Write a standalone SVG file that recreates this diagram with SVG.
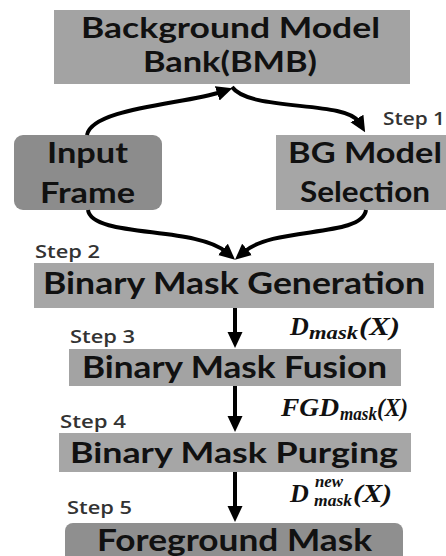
<svg xmlns="http://www.w3.org/2000/svg" width="446" height="556" viewBox="0 0 446 556">
<defs>
<style>
.lbl{font-family:Lato,"Open Sans","Liberation Sans",sans-serif;font-weight:700;fill:#111}
.step{font-family:"Open Sans","Liberation Sans",sans-serif;font-weight:600;font-size:18px;fill:#333}
.math{font-family:"Liberation Serif","DejaVu Serif",serif;font-style:italic;font-weight:700;fill:#111}
.big{font-size:26px}
.sub{font-size:18px}
.con{fill:none;stroke:#000;stroke-width:4;marker-end:url(#ah)}
</style>
<marker id="ah" markerUnits="userSpaceOnUse" viewBox="0 0 16 16" markerWidth="16" markerHeight="16" refX="4" refY="8" orient="auto">
<path d="M0,0.5 L16,8 L0,15.5 Z" fill="#000"/>
</marker>
</defs>
<rect width="446" height="556" fill="#fff"/>

<g id="bmb">
<rect x="54" y="10" width="356" height="74" fill="#a3a3a3"/>
<text class="lbl" x="81" y="38" font-size="28.5" textLength="299" lengthAdjust="spacingAndGlyphs">Background Model</text>
<text class="lbl" x="143" y="72" font-size="28.5" textLength="174" lengthAdjust="spacingAndGlyphs">Bank(BMB)</text>
</g>

<g id="input-frame">
<rect x="14" y="135" width="148" height="75" rx="9" fill="#8c8c8c"/>
<text class="lbl" x="47" y="163" font-size="28" textLength="81" lengthAdjust="spacingAndGlyphs">Input</text>
<text class="lbl" x="40" y="203" font-size="28" textLength="95" lengthAdjust="spacingAndGlyphs">Frame</text>
</g>

<g id="bg-selection">
<rect x="276" y="135" width="172" height="75" fill="#a6a6a6"/>
<text class="lbl" x="288" y="163" font-size="28" textLength="154" lengthAdjust="spacingAndGlyphs">BG Model</text>
<text class="lbl" x="300" y="202" font-size="28" textLength="130" lengthAdjust="spacingAndGlyphs">Selection</text>
<text class="step" x="383" y="125" textLength="62" lengthAdjust="spacingAndGlyphs">Step 1</text>
</g>

<g id="bm-generation">
<text class="step" x="35" y="258" textLength="65" lengthAdjust="spacingAndGlyphs">Step 2</text>
<rect x="34" y="263" width="400" height="45" fill="#a6a6a6"/>
<text class="lbl" x="43" y="294" font-size="31" textLength="382" lengthAdjust="spacingAndGlyphs">Binary Mask Generation</text>
</g>

<g id="bm-fusion">
<text class="step" x="70" y="343" textLength="65" lengthAdjust="spacingAndGlyphs">Step 3</text>
<rect x="69" y="349" width="332" height="37" fill="#a3a3a3"/>
<text class="lbl" x="82" y="378" font-size="30" textLength="305" lengthAdjust="spacingAndGlyphs">Binary Mask Fusion</text>
</g>

<g id="bm-purging">
<text class="step" x="60" y="428" textLength="66" lengthAdjust="spacingAndGlyphs">Step 4</text>
<rect x="59" y="433" width="352" height="39" fill="#a6a6a6"/>
<text class="lbl" x="70" y="463" font-size="29" textLength="328" lengthAdjust="spacingAndGlyphs">Binary Mask Purging</text>
</g>

<g id="fg-mask">
<text class="step" x="67" y="514" textLength="65" lengthAdjust="spacingAndGlyphs">Step 5</text>
<rect x="65" y="523" width="338" height="45" rx="8" fill="#8f8f8f"/>
<text class="lbl" x="97" y="551" font-size="30" textLength="275" lengthAdjust="spacingAndGlyphs">Foreground Mask</text>
</g>

<g id="connectors">
<path class="con" d="M87,135 C92,108 185,104 221,92"/>
<path class="con" d="M232,87 C250,112 346,100 359,122"/>
<path class="con" d="M88,210 C92,238 196,226 226,252"/>
<path class="con" d="M366,210 C362,238 274,226 244,252"/>
<path class="con" d="M235,308 V336"/>
<path class="con" d="M235,386 V420"/>
<path class="con" d="M235,472 V510"/>
</g>

<g id="math-labels">
<text class="math big" x="290" y="335">D</text>
<text class="math sub" x="309" y="339" textLength="49" lengthAdjust="spacingAndGlyphs">mask</text>
<text class="math big" x="359" y="335" textLength="41" lengthAdjust="spacingAndGlyphs">(X)</text>

<text class="math big" x="281" y="416" textLength="58" lengthAdjust="spacingAndGlyphs">FGD</text>
<text class="math sub" x="340" y="420" textLength="37" lengthAdjust="spacingAndGlyphs">mask</text>
<text class="math big" x="377" y="416" textLength="31" lengthAdjust="spacingAndGlyphs">(X)</text>

<text class="math big" x="290" y="502">D</text>
<text class="math" x="315" y="487" font-size="16" textLength="28" lengthAdjust="spacingAndGlyphs">new</text>
<text class="math" x="314" y="506" font-size="17" textLength="38" lengthAdjust="spacingAndGlyphs">mask</text>
<text class="math big" x="353" y="502" textLength="39" lengthAdjust="spacingAndGlyphs">(X)</text>
</g>
</svg>
